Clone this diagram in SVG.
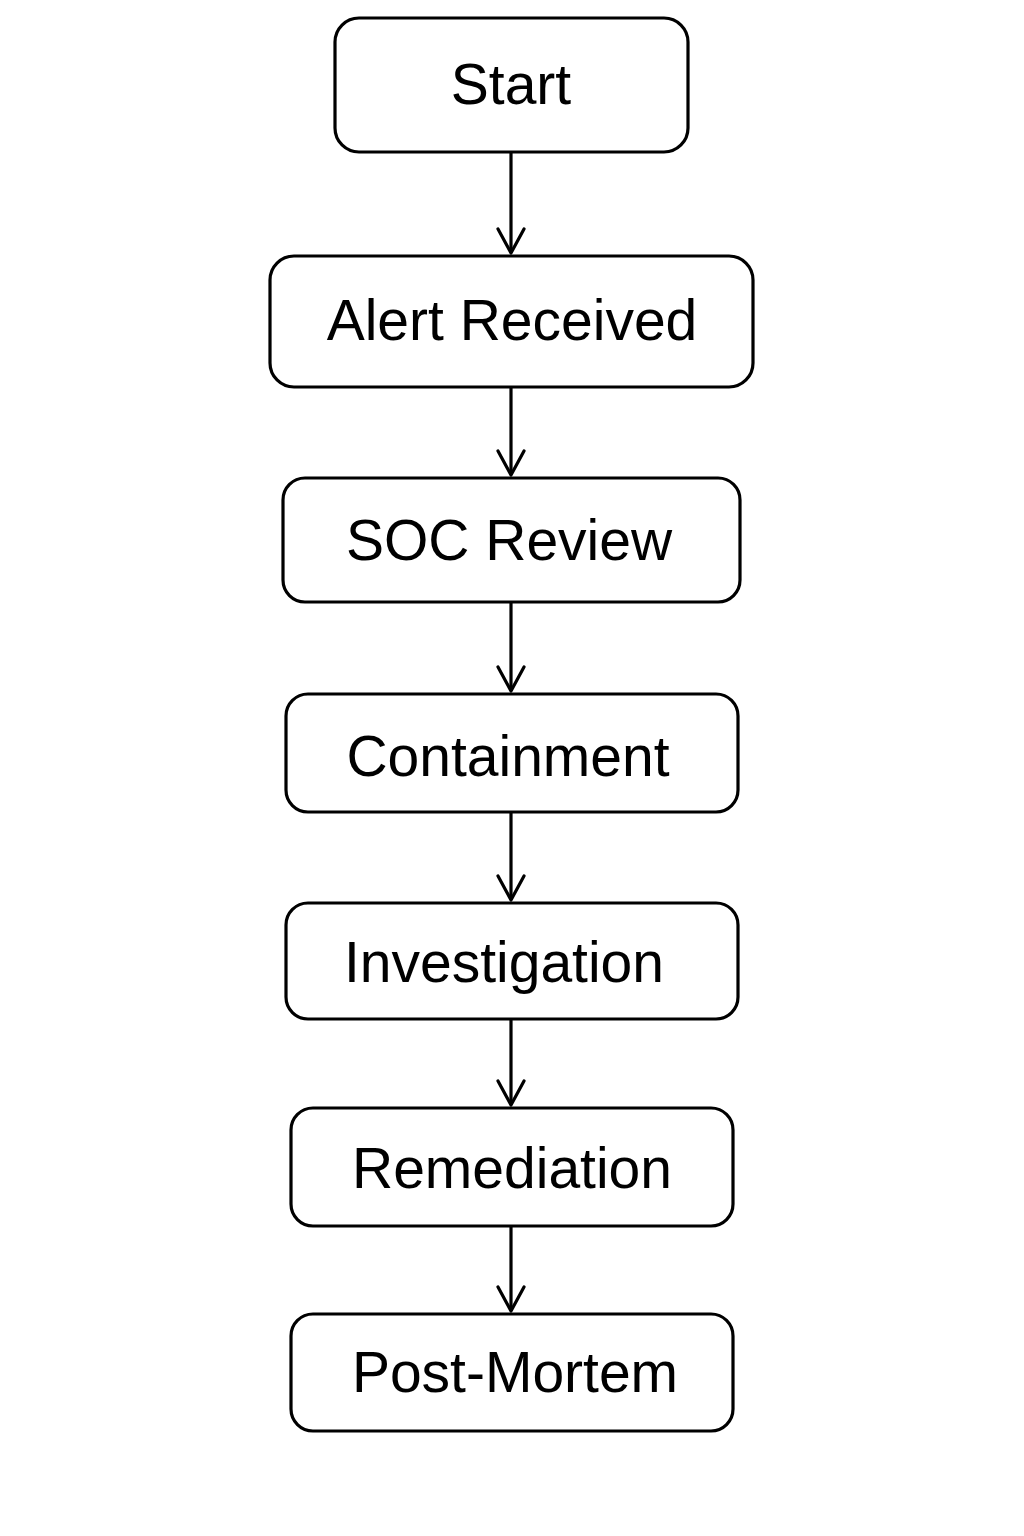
<svg xmlns="http://www.w3.org/2000/svg" width="1024" height="1536" viewBox="0 0 1024 1536">
<style>
.box{fill:#fff;stroke:#000;stroke-width:3.2}
.lbl{font-family:"Liberation Sans",Arial,sans-serif;font-size:57px;fill:#000;text-anchor:middle}
.edge{stroke:#000;stroke-width:3.2;fill:none}
.head{stroke:#000;stroke-width:3.2;fill:none;stroke-linecap:round;stroke-linejoin:round}
</style>
<rect width="1024" height="1536" fill="#fff"/>
<g id="connectors">
<g><line class="edge" x1="511" y1="152" x2="511" y2="253"/><polyline class="head" points="498,229 511,253 524,229"/></g>
<g><line class="edge" x1="511" y1="387" x2="511" y2="475"/><polyline class="head" points="498,451 511,475 524,451"/></g>
<g><line class="edge" x1="511" y1="602" x2="511" y2="691"/><polyline class="head" points="498,667 511,691 524,667"/></g>
<g><line class="edge" x1="511" y1="812" x2="511" y2="900"/><polyline class="head" points="498,876 511,900 524,876"/></g>
<g><line class="edge" x1="511" y1="1019" x2="511" y2="1105"/><polyline class="head" points="498,1081 511,1105 524,1081"/></g>
<g><line class="edge" x1="511" y1="1226" x2="511" y2="1311"/><polyline class="head" points="498,1287 511,1311 524,1287"/></g>
</g>
<g id="start"><rect class="box" x="335" y="18" width="353" height="134" rx="24"/><text class="lbl" x="511" y="104">Start</text></g>
<g id="alert-received"><rect class="box" x="270" y="256" width="483" height="131" rx="24"/><text class="lbl" x="512" y="340">Alert Received</text></g>
<g id="soc-review"><rect class="box" x="283" y="478" width="457" height="124" rx="22"/><text class="lbl" x="509" y="560">SOC Review</text></g>
<g id="containment"><rect class="box" x="286" y="694" width="452" height="118" rx="22"/><text class="lbl" x="508" y="776">Containment</text></g>
<g id="investigation"><rect class="box" x="286" y="903" width="452" height="116" rx="22"/><text class="lbl" x="504" y="982">Investigation</text></g>
<g id="remediation"><rect class="box" x="291" y="1108" width="442" height="118" rx="22"/><text class="lbl" x="512" y="1188">Remediation</text></g>
<g id="post-mortem"><rect class="box" x="291" y="1314" width="442" height="117" rx="22"/><text class="lbl" x="515" y="1392">Post-Mortem</text></g>
</svg>
